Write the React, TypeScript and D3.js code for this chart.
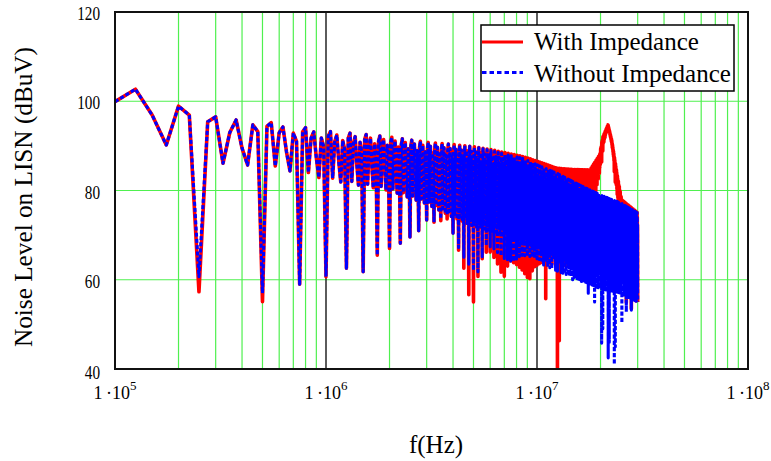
import React from "react";
import * as d3 from "d3";

const W = 771;
const H = 461;
const PLOT = { left: 115, right: 748, top: 12, bottom: 369 };

const xDomain = [1e5, 1e8];
const yDomain = [40, 120];
const xTickExponents = [5, 6, 7, 8];
const yTickValues = [40, 60, 80, 100, 120];
const yGridValues = [60, 80, 100];
const seriesNames = ["With Impedance", "Without Impedance"];

// harmonic grid of the spectrum (Hz)
const startHz = 100e3;
const stepHz = 25e3;
const endHz = 30e6;

// explicit low-frequency harmonics (kHz, dBuV)
const lowFreqKHz = [100, 125, 150, 175, 200, 225, 250, 275, 300, 325, 350, 375, 400, 425, 450, 475];
const lowRedDb = [99.9, 102.7, 96.9, 90.2, 98.9, 96.9, 57.3, 95.4, 96.5, 86.1, 93.0, 95.8, 89.5, 85.7, 94.7, 93.2];
const lowBlueDb = [99.9, 102.7, 96.9, 90.2, 98.9, 96.9, 60.7, 95.4, 96.5, 86.1, 93.0, 95.8, 89.5, 85.7, 94.7, 93.2];

// level of each harmonic inside one 250 kHz period (0 = top envelope, 1 = band bottom)
const periodShape = [0, 0.1, 0, 0.95, 0.2, 0.06, 0.6, 1.0, 0.16, 0.33];

// envelopes (MHz, dBuV)
const envFreqMHz = [0.5, 0.75, 1, 1.5, 2, 3, 4, 5, 6, 7.2, 8.6, 10, 12.4, 16, 20, 25, 30];
const topBlueDb = [95.5, 94.3, 93.3, 92.6, 92, 90.8, 90.3, 89.8, 89, 88, 87.2, 85.8, 83.9, 81.2, 79, 77.2, 75];
const bandBottomDb = [85.5, 84, 82.5, 81, 80, 77, 74, 72, 71, 70, 68.5, 67, 65, 63, 61, 60, 58];

const redTopFreqMHz = [0.5, 5, 6, 8.6, 10.3, 12.4, 15, 17.8, 19.8, 20.5, 21.7, 22.6, 24.1, 25.2, 30];
const redTopDb = [95.5, 89.8, 89.2, 87.6, 86.4, 85, 84.7, 84.6, 88, 92, 94.7, 91.3, 83, 77.9, 75];

const compFreqMHz = [14, 15, 18, 20, 21.7, 23, 24.5, 25.5, 27];
const compAmount = [0, 0.2, 0.5, 0.85, 1, 0.95, 0.7, 0.2, 0];

// depth of the 250 kHz nulls
const nullBlueFreqMHz = [0.25, 0.5, 0.75, 1, 1.25, 1.5, 1.75, 2, 2.25, 2.5, 2.75, 3, 3.35, 3.72, 3.95, 4.2, 4.4, 4.65, 4.9, 5.26, 5.56, 5.77, 6.2, 6.9, 7.7, 8.4, 9.3, 10.5];
const nullBlueDb = [60.7, 57, 59, 60.7, 62.6, 61.8, 65.5, 67, 68.2, 69.6, 71, 73.4, 72.7, 75, 71.1, 67.8, 65.5, 64.4, 62.2, 61.8, 66, 67.8, 67.1, 64.9, 64, 65.5, 65.2, 64.4];
const nullRedFreqMHz = [0.25, 0.5, 0.75, 1, 1.25, 1.5, 1.75, 2, 2.25, 2.5, 2.75, 3, 3.35, 3.72, 4.0, 4.2, 4.4, 4.7, 5.0, 5.3, 5.6, 6.0, 6.4, 6.8, 7.0, 7.4, 8.0, 8.5, 9.2, 9.6, 10.5];
const nullRedDb = [57.3, 55.1, 59, 60.7, 62.6, 61.8, 65.5, 67, 68.2, 69.6, 71, 73.4, 72.7, 74, 70.5, 67, 65.5, 57, 55, 61.8, 66, 66, 64, 61, 60.4, 64, 63, 61.8, 59.3, 62, 63];

// isolated deep nulls above 10 MHz
const spikeBlueMHz = [11.0, 12.0, 12.75, 14.75, 16.25, 17.5, 18.75, 20.25, 20.5, 21.75, 22.0, 23.25, 23.5, 25.25, 26.5, 28.0, 29.75];
const spikeBlueDb = [64.4, 65, 64, 60, 59.6, 57, 55, 45.8, 49, 42.5, 46, 41, 45, 50.3, 52.8, 53.2, 56.2];
const spikeRedMHz = [11.0, 12.5, 12.75, 13.75, 14.25];
const spikeRedDb = [54.8, 36, 45, 62.9, 60.4];

function interp(freqs: number[], vals: number[]) {
  return d3.scaleLog().domain(freqs).range(vals).clamp(true);
}

function buildSeries() {
  const top = interp(envFreqMHz, topBlueDb);
  const bottom = interp(envFreqMHz, bandBottomDb);
  const redTop = interp(redTopFreqMHz, redTopDb);
  const comp = interp(compFreqMHz, compAmount);
  const nBlue = interp(nullBlueFreqMHz, nullBlueDb);
  const nRed = interp(nullRedFreqMHz, nullRedDb);
  const findSpike = (list: number[], depths: number[], fm: number) => {
    for (let i = 0; i < list.length; i++) if (Math.abs(list[i] - fm) < 0.13) return depths[i];
    return null;
  };
  const red: { f: number; v: number }[] = [];
  const blue: { f: number; v: number }[] = [];
  const nStart = Math.round(startHz / stepHz);
  const nEnd = Math.round(endHz / stepHz);
  for (let n = nStart; n <= nEnd; n++) {
    const f = n * stepHz;
    const fm = f / 1e6;
    if (n - nStart < lowFreqKHz.length) {
      red.push({ f, v: lowRedDb[n - nStart] });
      blue.push({ f, v: lowBlueDb[n - nStart] });
      continue;
    }
    const k = n % periodShape.length;
    const T = top(fm);
    const B = bottom(fm);
    const TR = fm < 5 ? T : redTop(fm);
    const c = fm < 14 ? 0 : comp(fm);
    let bv: number;
    let rb: number;
    if (k === 0) {
      if (fm <= 10.5) {
        bv = nBlue(fm);
        rb = nRed(fm);
      } else {
        const sb = findSpike(spikeBlueMHz, spikeBlueDb, fm);
        bv = sb !== null ? sb : B - 3;
        const sr = findSpike(spikeRedMHz, spikeRedDb, fm);
        rb = sr !== null ? sr : bv;
      }
    } else {
      bv = T - periodShape[k] * (T - B);
      rb = bv;
    }
    const rv = TR - (1 - c) * (T - rb);
    blue.push({ f, v: bv });
    red.push({ f, v: rv });
  }
  return { red, blue };
}

const series = buildSeries();

export default function App() {
  const x = d3.scaleLog().domain(xDomain).range([PLOT.left, PLOT.right]);
  const y = d3.scaleLinear().domain(yDomain).range([PLOT.bottom, PLOT.top]);
  const line = d3
    .line<{ f: number; v: number }>()
    .x((d) => x(d.f))
    .y((d) => y(d.v));

  const minorX: number[] = [];
  for (let e = 5; e < 8; e++) for (let m = 2; m <= 9; m++) minorX.push(m * Math.pow(10, e));
  const decadeX = [1e6, 1e7];
  const green = "#4ff04f";
  const font = "'Liberation Serif', 'Times New Roman', serif";

  return (
    <svg width={W} height={H} style={{ position: "absolute", left: 0, top: 0, background: "#fff" }}>
      <defs>
        <clipPath id="plotClip">
          <rect x={PLOT.left} y={PLOT.top} width={PLOT.right - PLOT.left} height={PLOT.bottom - PLOT.top} />
        </clipPath>
      </defs>
      <rect x={0} y={0} width={W} height={H} fill="#fff" />
      {minorX.map((f) => (
        <line key={"mx" + f} x1={x(f)} x2={x(f)} y1={PLOT.top} y2={PLOT.bottom} stroke={green} strokeWidth={1.2} />
      ))}
      {yGridValues.map((v) => (
        <line key={"gy" + v} x1={PLOT.left} x2={PLOT.right} y1={y(v)} y2={y(v)} stroke={green} strokeWidth={1.2} />
      ))}
      {decadeX.map((f) => (
        <line key={"dx" + f} x1={x(f)} x2={x(f)} y1={PLOT.top} y2={PLOT.bottom} stroke="#333" strokeWidth={1.6} />
      ))}
      <g clipPath="url(#plotClip)">
        <path d={line(series.red) || ""} fill="none" stroke="#ff0000" strokeWidth={3.6} strokeLinejoin="round" />
        <path d={line(series.blue) || ""} fill="none" stroke="#0000ff" strokeWidth={3.1} strokeDasharray="4,2.2" strokeLinejoin="round" />
      </g>
      <rect x={PLOT.left} y={PLOT.top} width={PLOT.right - PLOT.left} height={PLOT.bottom - PLOT.top} fill="none" stroke="#111" strokeWidth={2} />

      {/* legend */}
      <rect x={481} y={25} width={253} height={66} fill="#fff" stroke="#000" strokeWidth={1.5} />
      <line x1={482} x2={523} y1={42} y2={42} stroke="#ff0000" strokeWidth={3} />
      <line x1={482} x2={523} y1={72.5} y2={72.5} stroke="#0000ff" strokeWidth={2.8} strokeDasharray="4.5,3" />
      <text x={534} y={50} fontFamily={font} fontSize={25} fill="#000">{seriesNames[0]}</text>
      <text x={534} y={81.5} fontFamily={font} fontSize={25} fill="#000">{seriesNames[1]}</text>

      {/* y tick labels */}
      {yTickValues.map((v) => (
        <text
          key={"yl" + v}
          x={100}
          y={y(v) + (v === 40 ? 10 : 8)}
          textAnchor="end"
          fontFamily={font}
          fontSize={18}
          textLength={String(v).length * 7.6}
          lengthAdjust="spacingAndGlyphs"
          fill="#000"
        >
          {v}
        </text>
      ))}
      {/* x tick labels */}
      {xTickExponents.map((e) => (
        <text key={"xl" + e} x={x(Math.pow(10, e))} y={399} textAnchor="middle" fontFamily={font} fontSize={18} fill="#000">
          {"1\u2009·10"}
          <tspan fontSize={13} dy={-9}>{e}</tspan>
        </text>
      ))}
      {/* axis titles */}
      <text x={436} y={453} textAnchor="middle" fontFamily={font} fontSize={25} fill="#000">f(Hz)</text>
      <text
        transform="translate(32,197) rotate(-90)"
        textAnchor="middle"
        fontFamily={font}
        fontSize={25}
        textLength={300}
        lengthAdjust="spacingAndGlyphs"
        fill="#000"
      >
        Noise Level on LISN (dBuV)
      </text>
    </svg>
  );
}
